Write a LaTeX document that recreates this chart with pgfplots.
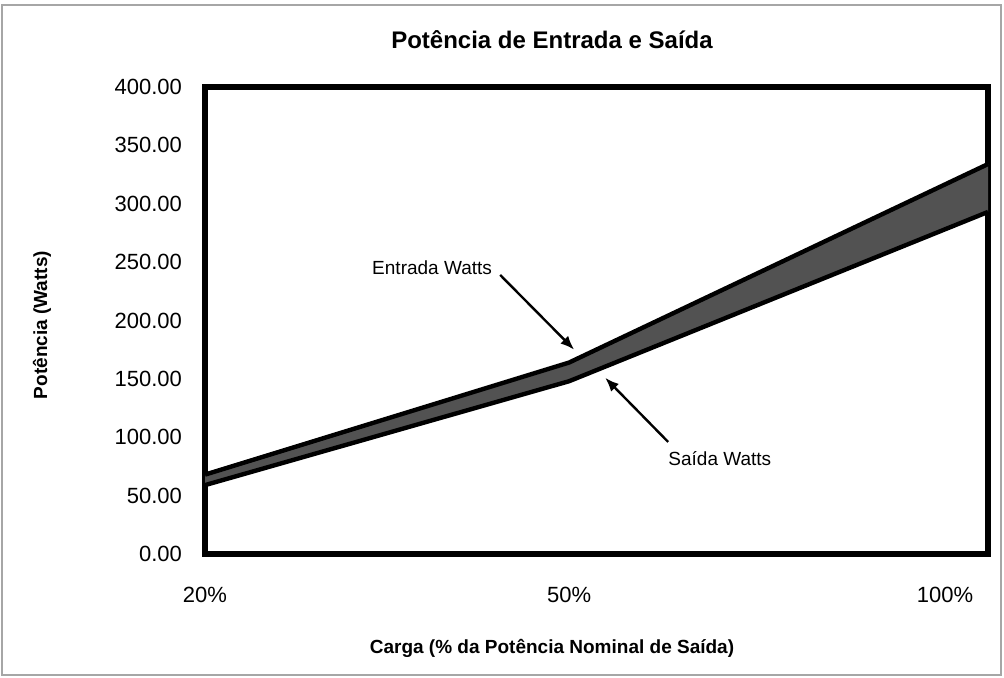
\documentclass[border=0pt]{standalone}
\usepackage{pgfplots}
\pgfplotsset{compat=1.18}
\usetikzlibrary{arrows.meta}
\usepackage{fontspec}
\setmainfont{Liberation Sans}
\begin{document}
\begin{tikzpicture}
\draw[gray!70, line width=0.6pt] (1pt,1pt) rectangle (500.5pt,336pt);
\begin{axis}[
  at={(102.5pt,61.5pt)}, anchor=south west,
  width=391.5pt, height=233.5pt, scale only axis,
  xmin=0, xmax=2, ymin=0, ymax=400,
  axis line style={line width=3pt},
  ytick={0,50,...,400},
  /pgf/number format/fixed,
  /pgf/number format/fixed zerofill,
  /pgf/number format/precision=2,
  /pgf/number format/assume math mode=true,
  yticklabel style={font=\fontsize{11}{13}\selectfont, xshift=-8pt},
  xtick={0,0.93,1.89},
  xticklabels={20\%,50\%,100\%},
  xticklabel style={font=\fontsize{11}{13}\selectfont, yshift=-13pt},
  major tick length=0pt,
  clip=false,
]
\addplot[fill=black!68, draw=none] coordinates {(0,68) (0.93,164) (2,334) (2,293) (0.93,148) (0,59)} -- cycle;
\addplot[black, line width=2.2pt] coordinates {(0,68) (0.93,164) (2,334)};
\addplot[black, line width=2.2pt] coordinates {(0,59) (0.93,148) (2,293)};
\node[font=\fontsize{9.5}{11}\selectfont] at (axis cs:0.58,245) {Entrada Watts};
\draw[-{Latex[length=7pt,width=5.5pt]}, line width=1.2pt] (axis cs:0.754,239) -- (axis cs:0.943,175);
\node[font=\fontsize{9.5}{11}\selectfont] at (axis cs:1.315,82) {Saída Watts};
\draw[-{Latex[length=7pt,width=5.5pt]}, line width=1.2pt] (axis cs:1.183,96) -- (axis cs:1.022,151);
\end{axis}
\node[font=\fontsize{12}{14}\selectfont\bfseries] at (276pt,318.5pt) {Potência de Entrada e Saída};
\node[font=\fontsize{9.5}{11}\selectfont\bfseries] at (276pt,14.5pt) {Carga (\% da Potência Nominal de Saída)};
\node[font=\fontsize{9.5}{11}\selectfont\bfseries, rotate=90] at (21pt,176pt) {Potência (Watts)};
\useasboundingbox (0,0) rectangle (502pt,338.5pt);
\end{tikzpicture}
\end{document}
